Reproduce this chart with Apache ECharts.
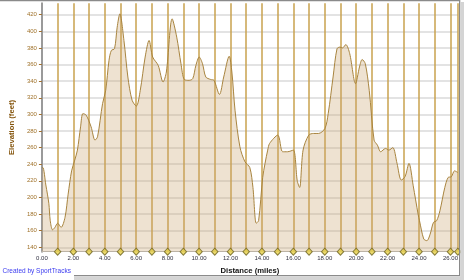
<!DOCTYPE html>
<html>
<head>
<meta charset="utf-8">
<script src="https://cdn.jsdelivr.net/npm/echarts@6/dist/echarts.min.js"></script>
<style>
html,body{margin:0;padding:0;background:#fff;}
#chart{width:464px;height:280px;}
</style>
</head>
<body>
<div id="chart"></div>
<script>
// Distance along the route (miles)
const distanceMiles = [
  0.0, 0.06, 0.25, 0.44, 0.53, 0.68, 0.83, 1.0, 1.22, 1.47, 1.67, 1.89, 2.09, 2.26, 2.46, 2.61, 2.82,
  3.13, 3.38, 3.54, 3.86, 4.06, 4.27, 4.42, 4.62, 4.79, 4.96, 5.22, 5.47, 5.74, 6.01, 6.26, 6.57,
  6.82, 7.05, 7.4, 7.71, 7.92, 8.29, 8.58, 8.85, 9.06, 9.37, 9.6, 9.8, 10.01, 10.22, 10.43, 10.74,
  10.95, 11.3, 11.57, 11.92, 12.09, 12.29, 12.6, 12.92, 13.23, 13.43, 13.64, 13.79, 14.05, 14.2,
  14.37, 14.49, 15.01, 15.32, 15.63, 16.0, 16.25, 16.4, 16.62, 16.98, 17.29, 17.6, 18.01, 18.22,
  18.53, 18.78, 18.97, 19.13, 19.34, 19.59, 19.96, 20.21, 20.38, 20.58, 20.83, 21.14, 21.35, 21.56,
  21.87, 22.08, 22.33, 22.6, 22.87, 23.11, 23.36, 23.63, 23.94, 24.03, 24.3, 24.5, 24.71, 24.92,
  25.12, 25.33, 25.64, 25.85, 26.06, 26.26, 26.47
];
// Elevation (feet)
const elevationFeet = [
  236, 236, 215, 193, 172, 161, 164, 169, 164, 176, 204, 232, 245, 257, 285, 301, 299,
  285, 269, 273, 313, 329, 365, 377, 379, 405, 421, 389, 345, 317, 310, 329, 369,
  389, 369, 359, 339, 351, 415, 393, 361, 342, 341, 343, 359, 369, 361, 345, 342,
  341, 324, 345, 370, 351, 305, 261, 243, 236, 212, 169, 172, 224, 241,
  257, 265, 275, 255, 255, 257, 220, 212, 257, 275, 277, 277, 283, 301,
  345, 379, 381, 380, 384, 373, 337, 357, 366, 361, 329, 269, 263, 255,
  259, 257, 260, 241, 221, 225, 241, 214, 180, 172, 150, 148, 156, 170,
  172, 184, 212, 224, 225, 232, 230
];
// Mile markers (diamonds on the x axis)
const mileMarkers = [1,2,3,4,5,6,7,8,9,10,11,12,13,14,15,16,17,18,19,20,21,22,23,24,25,26,26.47];
// Tick labels
const yTickValues = [140,160,180,200,220,240,260,280,300,320,340,360,380,400,420];
const xTickValues = [0,2,4,6,8,10,12,14,16,18,20,22,24,26];

const Y_MIN = 134.7, Y_MAX = 433.7, X_MAX = 26.48;

const chart = echarts.init(document.getElementById('chart'), null, {renderer: 'canvas'});
const profile = distanceMiles.map((d, i) => [d, elevationFeet[i]]);
const markers = mileMarkers.map(m => [m, Y_MIN]);

chart.setOption({
  animation: false,
  backgroundColor: '#ffffff',
  grid: {left: 31, right: 6, top: 3.3, bottom: 28.3, containLabel: false},
  xAxis: {
    type: 'value', min: 0, max: X_MAX, interval: 1,
    name: 'Distance (miles)', nameLocation: 'middle', nameGap: 13,
    nameTextStyle: {fontFamily: 'Liberation Sans', fontSize: 7.7, fontWeight: 'bold', color: '#111111'},
    axisLine: {show: true, lineStyle: {color: '#b8b8b8', width: 1}},
    axisTick: {show: false},
    axisLabel: {
      customValues: xTickValues, formatter: v => v.toFixed(2),
      fontFamily: 'Liberation Sans', fontSize: 6, color: '#303040', margin: 4
    },
    splitLine: {show: true, lineStyle: {color: '#c8a24e', width: 1.5}}
  },
  yAxis: {
    type: 'value', min: Y_MIN, max: Y_MAX,
    name: 'Elevation (feet)', nameLocation: 'middle', nameGap: 21, nameRotate: 90,
    nameTextStyle: {fontFamily: 'Liberation Sans', fontSize: 7.7, fontWeight: 'bold', color: '#85560f'},
    axisLine: {show: true, lineStyle: {color: '#9a9a9a', width: 2}},
    axisTick: {show: true, customValues: yTickValues, length: 3, inside: false, lineStyle: {color: '#a07030', width: 1}},
    axisLabel: {
      customValues: yTickValues, fontFamily: 'Liberation Sans', fontSize: 6,
      color: '#a0722a', margin: 5
    },
    splitLine: {show: true, lineStyle: {color: '#dadada', width: 1.5}}
  },
  series: [
    {
      type: 'line', data: profile, smooth: 0.3, symbol: 'none', z: 1,
      lineStyle: {color: '#a8843f', width: 1},
      areaStyle: {color: 'rgba(200,165,110,0.45)'}
    },
    {
      type: 'scatter', data: markers, symbol: 'diamond', symbolSize: [6.5, 7], z: 5, clip: false,
      itemStyle: {color: '#e8d24a', borderColor: '#6e6420', borderWidth: 1}
    }
  ],
  graphic: [
    {type: 'rect', shape: {x: 0, y: 0, width: 460, height: 1.3}, style: {fill: '#8a8a8a'}, z: 100},
    {type: 'rect', shape: {x: 459, y: 0, width: 1.3, height: 276}, style: {fill: '#8a8a8a'}, z: 100},
    {type: 'rect', shape: {x: 460.3, y: 2, width: 3.7, height: 278}, style: {fill: '#d4d4d4'}, z: 100},
    {type: 'rect', shape: {x: 74, y: 275, width: 386, height: 1.3}, style: {fill: '#8a8a8a'}, z: 100},
    {type: 'rect', shape: {x: 74, y: 276.3, width: 390, height: 3.7}, style: {fill: '#d4d4d4'}, z: 100},
    {type: 'text', left: 2.5, top: 267.5, z: 100,
     style: {text: 'Created by SportTracks', fontFamily: 'Liberation Sans', fontSize: 6.5, fill: '#3a3af0'}}
  ]
});
</script>
</body>
</html>
